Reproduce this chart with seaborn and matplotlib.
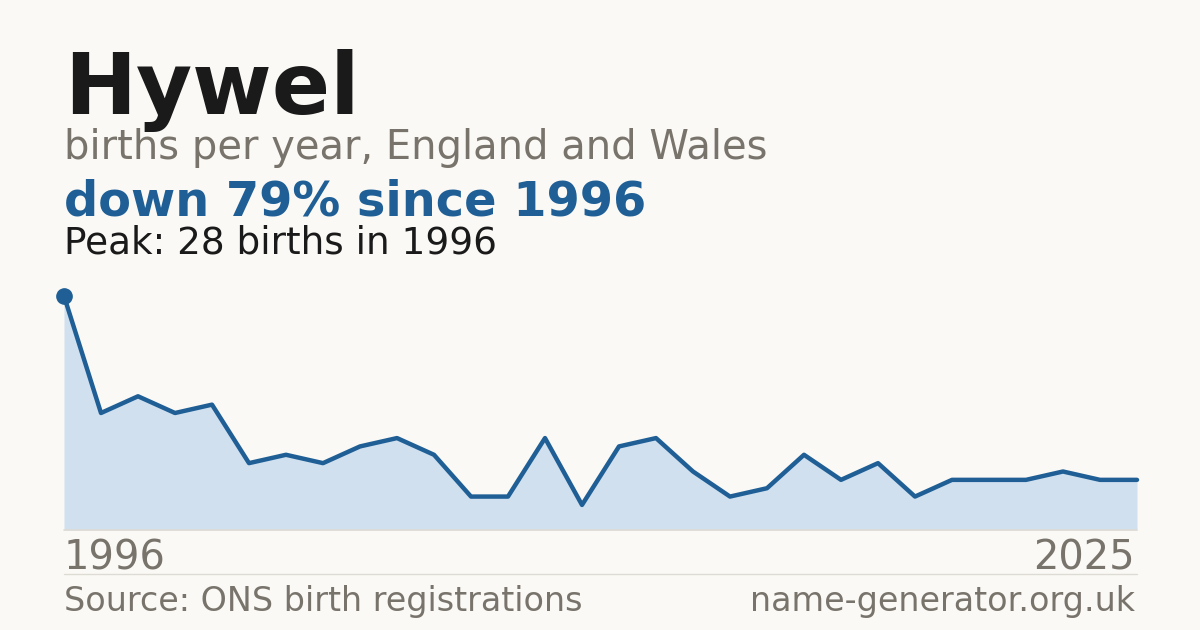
import matplotlib
matplotlib.use("Agg")
import matplotlib.pyplot as plt
import seaborn as sns
import pandas as pd
import numpy as np

years = list(range(1996, 2026))
births = [28, 14, 16, 14, 15, 8, 9, 8, 10, 11, 9, 4, 4, 11, 3, 10, 11, 7, 4, 5,
          9, 6, 8, 4, 6, 6, 6, 7, 6, 6]

title = "Hywel"
subtitle = "births per year, England and Wales"
headline = "down 79% since 1996"
peak_note = "Peak: 28 births in 1996"
source = "Source: ONS birth registrations"
site = "name-generator.org.uk"

BG = "#faf9f5"
BLUE = "#1f5f96"
FILL = "#d0e0ef"
GRAY = "#78736b"
DARK = "#1a1a1a"

sns.set_theme(style="white")
plt.rcParams['font.family'] = ['DejaVu Sans']

W, H = 1200, 630
fig = plt.figure(figsize=(12, 6.3), dpi=100, facecolor=BG)

def fx(px):
    return px / W

def fy(py):
    return (H - py) / H

x0, x1 = 64, 1137
ybase, ytop = 530, 296
ax = fig.add_axes([fx(x0), fy(ybase), fx(x1) - fx(x0), (ybase - ytop) / H])
ax.set_facecolor(BG)
df = pd.DataFrame({"year": years, "births": births})
ax.fill_between(df["year"], 0, df["births"], color=FILL, linewidth=0, zorder=1)
sns.lineplot(data=df, x="year", y="births", ax=ax, color=BLUE, linewidth=3.2,
             zorder=3, clip_on=False)
ax.plot([years[0]], [births[0]], marker="o", markersize=11, color=BLUE,
        clip_on=False, zorder=4, linestyle="none")
ax.set_xlim(years[0], years[-1])
ax.set_ylim(0, max(births))
ax.axis("off")
ax.axhline(0, color="#dedbd5", linewidth=1.2, zorder=2, clip_on=False)

fig.text(fx(64), fy(114), title, fontsize=62, fontweight="bold", color=DARK, va="baseline", ha="left")
fig.text(fx(64), fy(159), subtitle, fontsize=28.8, color=GRAY, va="baseline", ha="left")
fig.text(fx(64), fy(215), headline, fontsize=34.5, fontweight="bold", color=BLUE, va="baseline", ha="left")
fig.text(fx(64), fy(253), peak_note, fontsize=26.9, color=DARK, va="baseline", ha="left")

fig.text(fx(64), fy(569), str(years[0]), fontsize=28.8, color=GRAY, va="baseline", ha="left")
fig.text(fx(1135), fy(569), str(years[-1]), fontsize=28.8, color=GRAY, va="baseline", ha="right")

fig.add_artist(plt.Line2D([fx(64), fx(1137)], [fy(574), fy(574)], color="#dedbd5", linewidth=1))

fig.text(fx(64), fy(611), source, fontsize=24.0, color=GRAY, va="baseline", ha="left")
fig.text(fx(1135), fy(611), site, fontsize=24.0, color=GRAY, va="baseline", ha="right")

fig.savefig("out.png", dpi=100, facecolor=BG)
